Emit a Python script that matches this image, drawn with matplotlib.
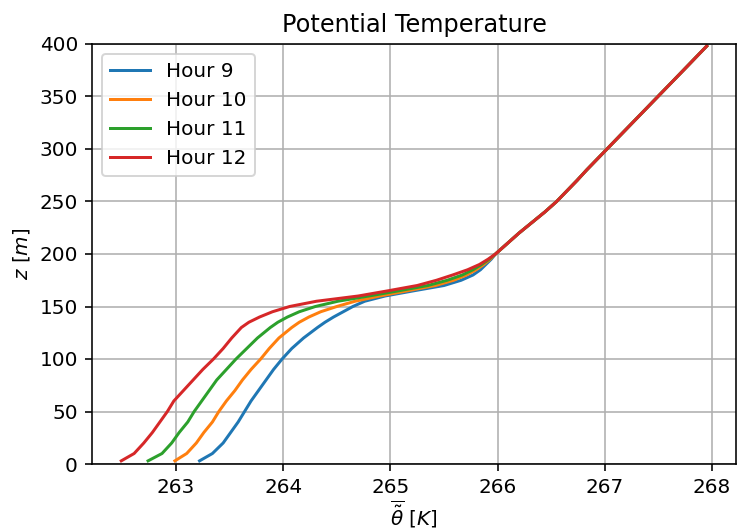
import numpy as np
import matplotlib.pyplot as plt

# height levels [m]
z = [3, 10, 20, 30, 40, 50, 60, 70, 80, 90, 100, 110, 120, 130, 135, 140, 145,
     150, 155, 160, 165, 170, 175, 180, 185, 190, 195, 200, 210, 220, 230,
     240, 250, 260, 270, 280, 290, 300, 320, 340, 360, 380, 398]

# upper part of the profile is the same for every hour
upper = [265.98, 266.09, 266.20, 266.32, 266.44, 266.55, 266.645, 266.74,
         266.83, 266.925, 267.02, 267.21, 267.40, 267.59, 267.78, 267.95]

theta_9 = [263.22, 263.34, 263.44, 263.51, 263.58, 263.64, 263.70, 263.77,
           263.84, 263.91, 263.99, 264.08, 264.19, 264.32, 264.39, 264.47,
           264.56, 264.65, 264.76, 264.95, 265.22, 265.50, 265.66, 265.77,
           265.84, 265.89, 265.94] + upper
theta_10 = [262.99, 263.10, 263.19, 263.26, 263.34, 263.40, 263.47, 263.55,
            263.62, 263.70, 263.79, 263.87, 263.96, 264.08, 264.15, 264.24,
            264.35, 264.50, 264.67, 264.90, 265.16, 265.42, 265.59, 265.71,
            265.80, 265.87, 265.93] + upper
theta_11 = [262.74, 262.87, 262.96, 263.03, 263.11, 263.17, 263.24, 263.31,
            263.38, 263.47, 263.56, 263.66, 263.76, 263.88, 263.95, 264.04,
            264.15, 264.30, 264.51, 264.80, 265.08, 265.35, 265.53, 265.67,
            265.77, 265.85, 265.92] + upper
theta_12 = [262.49, 262.61, 262.70, 262.78, 262.85, 262.92, 262.98, 263.07,
            263.16, 263.25, 263.35, 263.44, 263.52, 263.61, 263.68, 263.78,
            263.90, 264.06, 264.31, 264.70, 264.98, 265.25, 265.43, 265.58,
            265.72, 265.83, 265.91] + upper

hours = [9, 10, 11, 12]
profiles = [theta_9, theta_10, theta_11, theta_12]

fig = plt.figure(figsize=(737/144, 532/144), dpi=144)
ax = fig.add_axes([92/737, 68/532, 644/737, 420/532])

for h, th in zip(hours, profiles):
    ax.plot(th, z, label='Hour %d' % h)

ax.set_ylim(0, 400)
ax.set_title('Potential Temperature')
ax.set_xlabel(r'$\overline{\tilde{\theta}}\ [K]$', labelpad=1)
ax.set_ylabel(r'$z\ [m]$')
ax.legend()
ax.grid()

fig.savefig('out.png', dpi=144)
